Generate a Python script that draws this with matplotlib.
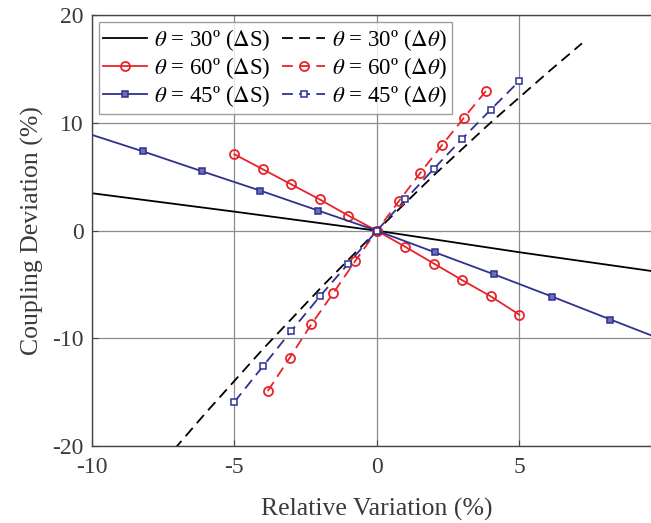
import matplotlib
matplotlib.use("Agg")
import matplotlib.pyplot as plt

plt.rcParams["font.family"] = ["Liberation Serif", "DejaVu Serif"]
plt.rcParams["mathtext.fontset"] = "stix"
plt.rcParams["axes.unicode_minus"] = False

RED = "#e8232b"
BLUE = "#2e3192"
GRID = "#8c8c8c"
TXT = "#3a3a3a"

# theta = 30 deg
x30_s = [-10, -5, 0, 5, 10]
y30_s = [3.48, 1.77, 0, -2.0, -3.88]
x30_t = [-7.5, -6, -4, -2, 0, 2, 4, 6, 7.2]
y30_t = [-21.5, -16.9, -11.0, -5.4, 0, 5.15, 10.05, 14.7, 17.4]

# theta = 60 deg
x60_s = [-5, -4, -3, -2, -1, 0, 1, 2, 3, 4, 5]
y60_s = [7.1, 5.7, 4.3, 2.9, 1.4, 0, -1.5, -3.05, -4.6, -6.1, -7.8]
x60_t = [-3.83, -3.06, -2.3, -1.53, -0.77, 0, 0.77, 1.53, 2.3, 3.06, 3.83]
y60_t = [-14.9, -11.8, -8.7, -5.8, -2.86, 0, 2.73, 5.38, 7.99, 10.5, 12.98]

# theta = 45 deg
x45_s = [-10, -8.2, -6.15, -4.1, -2.05, 0, 2.05, 4.1, 6.15, 8.2, 10]
y45_s = [8.9, 7.36, 5.53, 3.73, 1.86, 0, -2.02, -4.04, -6.12, -8.25, -10.1]
x45_t = [-5, -4, -3, -2, -1, 0, 1, 2, 3, 4, 5]
y45_t = [-15.9, -12.6, -9.3, -6.1, -3.05, 0, 2.9, 5.75, 8.55, 11.25, 13.9]

xticks = [-10, -5, 0, 5, 10]
xticklabels = ["-10", "-5", "0", "5", ""]
yticks = [-20, -10, 0, 10, 20]

fig = plt.figure(figsize=(6.51, 5.23), dpi=100)
ax = fig.add_axes([92 / 651, 77 / 523, (661.7 - 92) / 651, (446 - 15.4) / 523])

lw = 1.3
dash = (0, (6, 3.5))
h30s, = ax.plot(x30_s, y30_s, color="black", lw=lw, label=r"$\theta$ = 30º ($\Delta$S)")
h30t, = ax.plot(x30_t, y30_t, color="black", lw=lw, ls=dash,
                label=r"$\theta$ = 30º ($\Delta\theta$)")
h60s, = ax.plot(x60_s, y60_s, color=RED, lw=lw, marker="o", ms=6.5, mfc="none", mew=1.3,
                label=r"$\theta$ = 60º ($\Delta$S)")
h60t, = ax.plot(x60_t, y60_t, color=RED, lw=lw, ls=dash, marker="o", ms=6.5,
                mfc="none", mew=1.3, label=r"$\theta$ = 60º ($\Delta\theta$)")
h45s, = ax.plot(x45_s, y45_s, color=BLUE, lw=lw, marker="s", ms=4.3, mfc="#6a6fb8", mew=1.1,
                markevery=list(range(1, 10)), label=r"$\theta$ = 45º ($\Delta$S)")
h45t, = ax.plot(x45_t, y45_t, color=BLUE, lw=lw, ls=dash, marker="s", ms=4.3,
                mfc="white", mew=1.1, label=r"$\theta$ = 45º ($\Delta\theta$)")

ax.set_xlim(-10, 10)
ax.set_ylim(-20, 20)
ax.set_xticks(xticks)
ax.set_xticklabels(xticklabels)
ax.set_yticks(yticks)
ax.grid(True, color=GRID, lw=0.9)
ax.set_axisbelow(True)
ax.tick_params(direction="in", length=4, labelsize=17, colors="#444444",
               labelcolor=TXT)
ax.tick_params(axis="x", pad=8)
ax.tick_params(axis="y", pad=6)
for s in ax.spines.values():
    s.set_color("#444444")
    s.set_linewidth(1.0)

ax.set_xlabel("Relative Variation (%)", fontsize=18.5, color=TXT, labelpad=14)
ax.set_ylabel("Coupling Deviation (%)", fontsize=18.5, color=TXT, labelpad=6)

handles = [h30s, h60s, h45s, h30t, h60t, h45t]
leg = ax.legend(handles=handles, ncol=2, loc="upper left", bbox_to_anchor=(0.0, 1.0),
                fontsize=16.5, frameon=True, fancybox=False, edgecolor="#888888",
                handlelength=1.9, handletextpad=0.3, columnspacing=0.5,
                labelspacing=0.1, borderpad=0.2, borderaxespad=0.3)
leg.get_frame().set_linewidth(1.0)

fig.savefig("out.png", dpi=100)
